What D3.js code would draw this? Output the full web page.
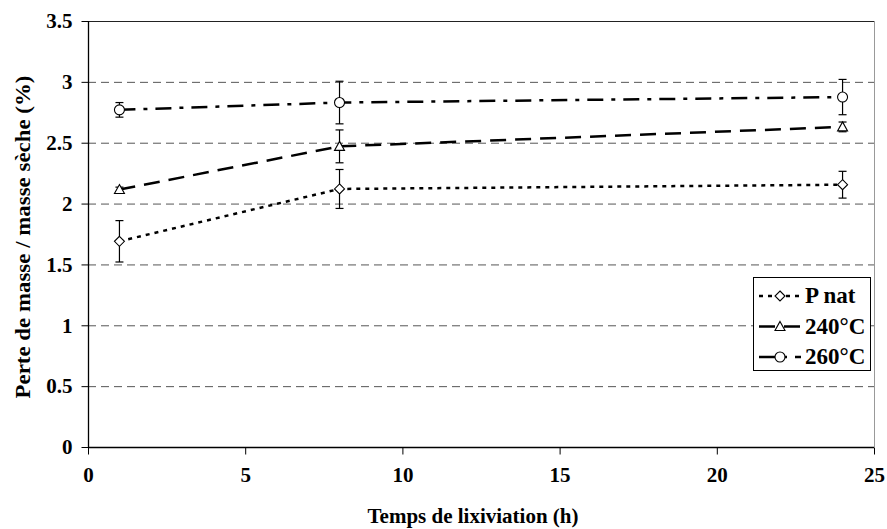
<!DOCTYPE html>
<html><head><meta charset="utf-8">
<script src="https://cdn.jsdelivr.net/npm/d3@7"></script>
<style>body{margin:0;background:#fff}svg{display:block}text{font-family:"Liberation Serif","Times New Roman",serif;font-weight:bold;fill:#000}</style>
</head><body>
<svg id="c" width="887" height="529"></svg>
<script>
const times = [1, 8, 24];
const seriesNames = ["P nat", "240°C", "260°C"];
const pNat = [1.69, 2.12, 2.155];
const pNatErr = [0.17, 0.16, 0.11];
const t240 = [2.115, 2.47, 2.63];
const t240Err = [0.02, 0.135, 0.04];
const t260 = [2.77, 2.83, 2.875];
const t260Err = [0.06, 0.175, 0.145];
const xTicks = [0, 5, 10, 15, 20, 25];
const yTicks = [0, 0.5, 1, 1.5, 2, 2.5, 3, 3.5];
const xTitle = "Temps de lixiviation (h)";
const yTitle = "Perte de masse / masse sèche (%)";

const svg = d3.select("#c");
const L = 88, R = 874, T = 21, B = 447;
const FS = 21;
const x = d3.scaleLinear().domain([0, 25]).range([L, R]);
const y = d3.scaleLinear().domain([0, 3.5]).range([B, T]);

// grid
svg.append("g").selectAll("line").data(yTicks.filter(v => v > 0 && v < 3.5)).join("line")
  .attr("x1", L).attr("x2", R).attr("y1", d => y(d) + 0.5).attr("y2", d => y(d) + 0.5)
  .attr("stroke", "#555").attr("stroke-width", 1).attr("stroke-dasharray", "8,5");
// frame top/right
svg.append("line").attr("x1", L).attr("x2", R).attr("y1", T + 0.5).attr("y2", T + 0.5).attr("stroke", "#222");
svg.append("line").attr("x1", R + 0.5).attr("x2", R + 0.5).attr("y1", T).attr("y2", B).attr("stroke", "#999");

// axes
const xAxis = d3.axisBottom(x).tickValues(xTicks).tickSize(7).tickPadding(13).tickFormat(d3.format("d"));
const yAxis = d3.axisLeft(y).tickValues(yTicks).tickSize(7).tickPadding(9).tickFormat(d => String(d));
const gx = svg.append("g").attr("transform", `translate(0,${B + 0.5})`).call(xAxis);
const gy = svg.append("g").attr("transform", `translate(${L + 0.5},0)`).call(yAxis);
[gx, gy].forEach(g => {
  g.select(".domain").attr("stroke", "#000").attr("stroke-width", 1.3);
  g.selectAll(".tick line").attr("stroke", "#000");
  g.selectAll(".tick text").attr("font-size", FS).attr("font-family", '"Liberation Serif",serif').attr("font-weight", "bold").attr("fill", "#000");
});
gy.select(".domain").attr("d", `M0,${T}V${B}`);
gx.select(".domain").attr("d", `M${L},0H${R}`);

svg.append("text").attr("x", (L + R) / 2 - 8).attr("y", 523).attr("text-anchor", "middle").attr("font-size", FS).text(xTitle);
svg.append("text").attr("transform", `translate(30,${(T + B) / 2 + 3}) rotate(-90)`).attr("text-anchor", "middle")
  .attr("font-size", FS).attr("textLength", 323).attr("lengthAdjust", "spacingAndGlyphs").text(yTitle);

const series = [
  {name: seriesNames[0], v: pNat, e: pNatErr, dash: "4,5", marker: "diamond"},
  {name: seriesNames[1], v: t240, e: t240Err, dash: "16,9", marker: "triangle"},
  {name: seriesNames[2], v: t260, e: t260Err, dash: "16,8,4,8", marker: "circle"}
];
const line = d3.line().x((d, i) => x(times[i])).y(d => y(d));

function drawMarker(g, type, cx, cy) {
  if (type === "circle") g.append("circle").attr("cx", cx).attr("cy", cy).attr("r", 5);
  else if (type === "diamond") g.append("path").attr("d", `M${cx},${cy - 5}L${cx + 5},${cy}L${cx},${cy + 5}L${cx - 5},${cy}Z`);
  else g.append("path").attr("d", `M${cx},${cy - 5}L${cx + 5},${cy + 4}L${cx - 5},${cy + 4}Z`);
}

series.forEach(s => {
  svg.append("path").datum(s.v).attr("d", line).attr("fill", "none").attr("stroke", "#000")
    .attr("stroke-width", 2.5).attr("stroke-dasharray", s.dash);
  const g = svg.append("g").attr("stroke", "#000").attr("stroke-width", 1.2);
  s.v.forEach((v, i) => {
    const cx = x(times[i]);
    g.append("line").attr("x1", cx).attr("x2", cx).attr("y1", y(v + s.e[i])).attr("y2", y(v - s.e[i]));
    [v + s.e[i], v - s.e[i]].forEach(w => g.append("line").attr("x1", cx - 4).attr("x2", cx + 4).attr("y1", y(w)).attr("y2", y(w)));
  });
  const mg = svg.append("g").attr("stroke", "#000").attr("stroke-width", 1.1).attr("fill", "#fff");
  s.v.forEach((v, i) => drawMarker(mg, s.marker, x(times[i]), y(v)));
});

// legend
const lg = svg.append("g");
lg.append("rect").attr("x", 753.5).attr("y", 277.5).attr("width", 117).attr("height", 93).attr("fill", "#fff").attr("stroke", "#000").attr("stroke-width", 1);
series.forEach((s, i) => {
  const ly = 296 + i * 30.5;
  lg.append("line").attr("x1", 759).attr("x2", 801).attr("y1", ly).attr("y2", ly).attr("stroke", "#000")
    .attr("stroke-width", 2.5).attr("stroke-dasharray", s.dash);
  const mg = lg.append("g").attr("stroke", "#000").attr("stroke-width", 1.1).attr("fill", "#fff");
  drawMarker(mg, s.marker, 780, ly);
  lg.append("text").attr("x", 805).attr("y", ly + 7).attr("font-size", 23).text(s.name);
});
</script>
</body></html>
